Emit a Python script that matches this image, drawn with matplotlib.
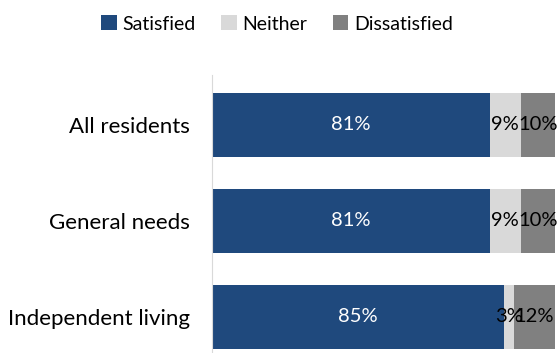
import numpy as np
import matplotlib.pyplot as plt

plt.rcParams['font.family'] = ['Lato', 'DejaVu Sans']

categories = ['All residents', 'General needs', 'Independent living']
satisfied = [81, 81, 85]
neither = [9, 9, 3]
dissatisfied = [10, 10, 12]

fig = plt.figure(figsize=(5.59, 3.53), dpi=100)
ax = fig.add_axes([212 / 559, 0, 343 / 559, 278 / 353])

y = np.arange(len(categories))
h = 0.667
b1 = ax.barh(y, satisfied, height=h, color='#1f497d', label='Satisfied')
b2 = ax.barh(y, neither, left=satisfied, height=h, color='#d9d9d9', label='Neither')
left3 = np.array(satisfied) + np.array(neither)
b3 = ax.barh(y, dissatisfied, left=left3, height=h, color='#808080', label='Dissatisfied')

ax.bar_label(b1, labels=[f'{v}%' for v in satisfied], label_type='center', color='white', fontsize=14.5)
ax.bar_label(b2, labels=[f'{v}%' for v in neither], label_type='center', color='black', fontsize=14.5)
ax.bar_label(b3, labels=[f'{v}%' for v in dissatisfied], label_type='center', color='black', fontsize=14.5)

ax.set_xlim(0, 100)
ax.set_ylim(2.375, -0.52)
ax.set_yticks(y)
ax.set_yticklabels(categories, fontsize=16)
ax.tick_params(axis='y', length=0, pad=16)
ax.set_xticks([])
for s in ['top', 'right', 'bottom']:
    ax.spines[s].set_visible(False)
ax.spines['left'].set_color('#d9d9d9')

fig.legend(loc='center', bbox_to_anchor=(0.496, 1 - 24 / 353), ncol=3, frameon=False,
           fontsize=14, handlelength=0.8, handleheight=0.8, handletextpad=0.3, columnspacing=1.3)

fig.savefig('out.png')
